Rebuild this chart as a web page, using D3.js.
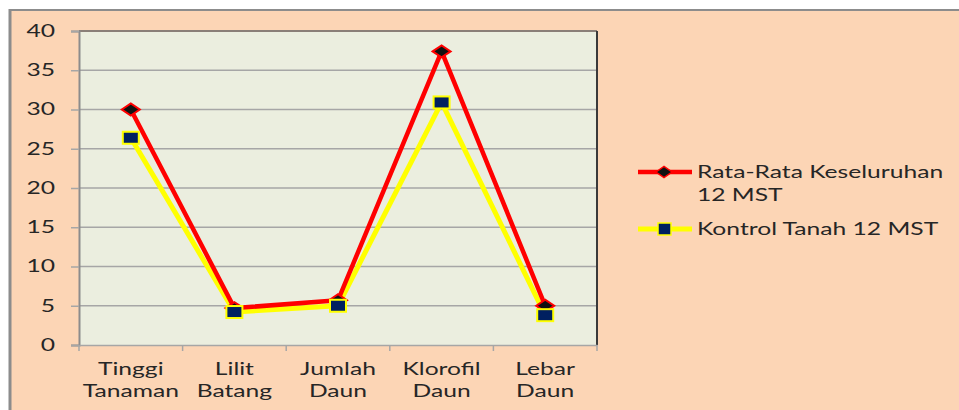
<!DOCTYPE html>
<html>
<head>
<meta charset="utf-8">
<script src="https://cdn.jsdelivr.net/npm/d3@7"></script>
<style>
  html, body { margin: 0; padding: 0; background: #ffffff; }
  svg { display: block; }
  text { font-family: Lato, "Open Sans", sans-serif; fill: #262626; }
</style>
</head>
<body>
<svg id="chart" width="959" height="410"></svg>
<script>
// Category labels (two lines each)
const categories = ["Tinggi Tanaman", "Lilit Batang", "Jumlah Daun", "Klorofil Daun", "Lebar Daun"];
const categoryLines = [["Tinggi", "Tanaman"], ["Lilit", "Batang"], ["Jumlah", "Daun"], ["Klorofil", "Daun"], ["Lebar", "Daun"]];

// Series values
const rataRata = [30.0, 4.7, 5.7, 37.4, 5.0];
const kontrol = [26.4, 4.2, 5.0, 30.9, 3.8];

const yTicks = [0, 5, 10, 15, 20, 25, 30, 35, 40];
const seriesNames = ["Rata-Rata Keseluruhan", "12 MST"];
const seriesName2 = "Kontrol Tanah 12 MST";

const svg = d3.select("#chart");
const W = 959, H = 410;
const STRETCH = 1.45; // the text is set wide

// Widen a text element horizontally around its anchor x
function widen(sel, ax) {
  sel.attr("transform", `translate(${ax},0) scale(${STRETCH},1) translate(${-ax},0)`);
}

// Chart area background and frame
svg.append("rect").attr("x", 10).attr("y", 10).attr("width", W - 10).attr("height", H - 10)
  .attr("fill", "#FCD5B5");
svg.append("line").attr("x1", 9).attr("x2", W).attr("y1", 10).attr("y2", 10)
  .attr("stroke", "#8c8c8c").attr("stroke-width", 2);
svg.append("line").attr("x1", 10).attr("x2", 10).attr("y1", 9).attr("y2", H)
  .attr("stroke", "#8c8c8c").attr("stroke-width", 3);

const plot = { left: 79, top: 31, right: 597, bottom: 345 };

const x = d3.scaleBand().domain(categories).range([plot.left, plot.right]).padding(0);
const y = d3.scaleLinear().domain([0, 40]).range([plot.bottom, plot.top]);

// Plot area
svg.append("rect")
  .attr("x", plot.left).attr("y", plot.top)
  .attr("width", plot.right - plot.left).attr("height", plot.bottom - plot.top)
  .attr("fill", "#EBEEDF");

// Gridlines
svg.append("g").selectAll("line").data(yTicks.filter(d => d > 0 && d < 40)).join("line")
  .attr("x1", plot.left).attr("x2", plot.right)
  .attr("y1", d => y(d)).attr("y2", d => y(d))
  .attr("stroke", "#a6a6a6").attr("stroke-width", 1.5);

// Plot frame: top and right edges
svg.append("line").attr("x1", plot.left).attr("x2", plot.right).attr("y1", plot.top).attr("y2", plot.top)
  .attr("stroke", "#8a7f78").attr("stroke-width", 2);
svg.append("line").attr("x1", plot.right).attr("x2", plot.right).attr("y1", plot.top).attr("y2", plot.bottom)
  .attr("stroke", "#3a3a3a").attr("stroke-width", 2);

// Y axis
const yAxis = svg.append("g")
  .attr("transform", `translate(${plot.left},0)`)
  .call(d3.axisLeft(y).tickValues(yTicks).tickSize(8).tickPadding(16));
yAxis.select(".domain").attr("stroke", "#8c8c8c").attr("stroke-width", 2);
yAxis.selectAll(".tick line").attr("stroke", "#a6a6a6").attr("stroke-width", 1.5);
yAxis.selectAll(".tick text")
  .style("font-family", "Lato, 'Open Sans', sans-serif")
  .style("font-size", "17px").attr("fill", "#262626")
  .call(widen, -24);

// X axis
const xAxis = svg.append("g")
  .attr("transform", `translate(0,${plot.bottom})`)
  .call(d3.axisBottom(x).tickSize(0).tickFormat(""));
xAxis.select(".domain").attr("stroke", "#a6a6a6").attr("stroke-width", 1.5);
xAxis.selectAll(".tick").remove();

// Tick marks at category boundaries
const bounds = categories.map(c => x(c)).concat([x(categories[categories.length - 1]) + x.bandwidth()]);
svg.append("g").selectAll("line").data(bounds).join("line")
  .attr("x1", d => d).attr("x2", d => d)
  .attr("y1", plot.bottom).attr("y2", plot.bottom + 6)
  .attr("stroke", "#a6a6a6").attr("stroke-width", 1.5);

// Category labels
const catG = svg.append("g");
categories.forEach((c, i) => {
  const mx = x(c) + x.bandwidth() / 2;
  const t = catG.append("text")
    .attr("x", mx)
    .attr("y", 375)
    .attr("text-anchor", "middle")
    .style("font-size", "17px")
    .call(widen, mx);
  categoryLines[i].forEach((ln, j) => {
    t.append("tspan").attr("x", mx).attr("dy", j === 0 ? 0 : 22).text(ln);
  });
});

const cx = (d, i) => x(categories[i]) + x.bandwidth() / 2;
const line = d3.line().x((d, i) => cx(d, i)).y(d => y(d));

// Series: Kontrol Tanah (yellow, drawn first)
svg.append("path").datum(kontrol).attr("d", line)
  .attr("fill", "none").attr("stroke", "#FFFF00").attr("stroke-width", 5)
  .attr("stroke-linejoin", "round");

// Series: Rata-Rata Keseluruhan (red)
svg.append("path").datum(rataRata).attr("d", line)
  .attr("fill", "none").attr("stroke", "#FF0000").attr("stroke-width", 4.5)
  .attr("stroke-linejoin", "round");

const diamond = (px, py, w, h) => `M${px - w / 2},${py}L${px},${py - h / 2}L${px + w / 2},${py}L${px},${py + h / 2}Z`;

// Red diamond markers
svg.append("g").selectAll("path").data(rataRata).join("path")
  .attr("d", (d, i) => diamond(cx(d, i), y(d), 18, 12))
  .attr("fill", "#111111").attr("stroke", "#FF0000").attr("stroke-width", 2);

// Square markers
svg.append("g").selectAll("rect").data(kontrol).join("rect")
  .attr("x", (d, i) => cx(d, i) - 8).attr("y", d => y(d) - 6)
  .attr("width", 16).attr("height", 12)
  .attr("fill", "#002060").attr("stroke", "#FFFF00").attr("stroke-width", 2);

// Legend
const lg = svg.append("g");
lg.append("line").attr("x1", 638).attr("x2", 692).attr("y1", 172).attr("y2", 172)
  .attr("stroke", "#FF0000").attr("stroke-width", 4.5);
lg.append("path").attr("d", diamond(664, 172, 16, 11))
  .attr("fill", "#111111").attr("stroke", "#FF0000").attr("stroke-width", 1.5);
const lt = lg.append("text").attr("x", 697).attr("y", 178).style("font-size", "17px").call(widen, 697);
lt.append("tspan").attr("x", 697).attr("dy", 0).text(seriesNames[0]);
lt.append("tspan").attr("x", 697).attr("dy", 23).text(seriesNames[1]);

lg.append("line").attr("x1", 638).attr("x2", 692).attr("y1", 229).attr("y2", 229)
  .attr("stroke", "#FFFF00").attr("stroke-width", 5);
lg.append("rect").attr("x", 658).attr("y", 223).attr("width", 13).attr("height", 12)
  .attr("fill", "#002060").attr("stroke", "#FFFF00").attr("stroke-width", 1.5);
lg.append("text").attr("x", 697).attr("y", 235).style("font-size", "17px").text(seriesName2).call(widen, 697);
</script>
</body>
</html>
